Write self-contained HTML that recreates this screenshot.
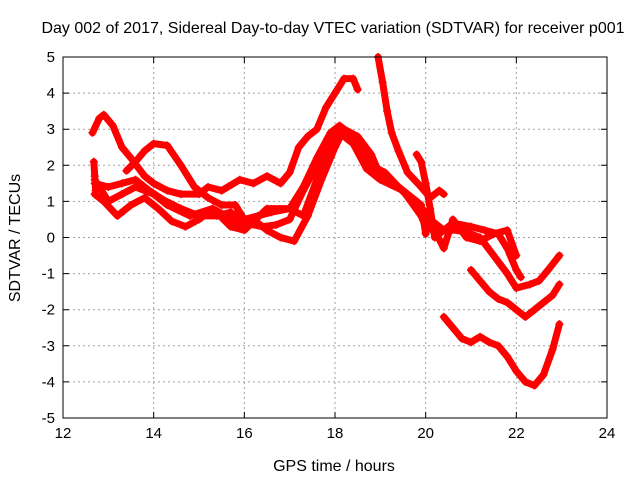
<!DOCTYPE html>
<html><head><meta charset="utf-8"><style>
body{margin:0;background:#fff}
svg{display:block;font-family:"Liberation Sans",sans-serif}
</style></head><body>
<svg id="chart" width="640" height="480">
<rect width="640" height="480" fill="#fff"/>
<text x="333" y="33" text-anchor="middle" font-size="16">Day 002 of 2017, Sidereal Day-to-day VTEC variation (SDTVAR) for receiver p001</text>
<text x="334" y="471" text-anchor="middle" font-size="16">GPS time / hours</text>
<text transform="translate(20,238) rotate(-90)" text-anchor="middle" font-size="16">SDTVAR / TECUs</text>
<g id="grid"></g>
<g id="series"></g>
<rect x="63" y="57" width="544" height="361" fill="none" stroke="#000" stroke-width="1"/>
</svg>
<script>
const xTicks=[12,14,16,18,20,22,24];
const yTicks=[-5,-4,-3,-2,-1,0,1,2,3,4,5];
const track1=[[12.65,2.9],[12.8,3.3],[12.9,3.4],[13.1,3.1],[13.3,2.5],[13.5,2.2],[13.8,1.7],[14.0,1.5],[14.3,1.3],[14.6,1.2],[15.0,1.2],[15.2,1.4],[15.5,1.3],[15.9,1.6],[16.2,1.5],[16.5,1.7],[16.8,1.5],[17.0,1.8],[17.2,2.5],[17.4,2.8],[17.6,3.0],[17.8,3.6],[18.0,4.0],[18.2,4.4],[18.4,4.4],[18.5,4.1]];
const track2=[[13.4,1.85],[13.6,2.1],[13.8,2.4],[14.0,2.6],[14.3,2.55],[14.6,2.0],[14.9,1.4],[15.2,1.1],[15.5,0.9],[15.8,0.9],[16.0,0.5],[16.3,0.6],[16.6,0.7],[17.0,0.8],[17.3,1.4],[17.6,2.2],[17.9,2.9],[18.1,3.1],[18.3,2.9],[18.6,2.3],[18.9,1.9],[19.3,1.5],[19.6,1.2],[19.9,0.9],[20.0,0.1]];
const track3=[[12.7,1.5],[13.0,1.4],[13.3,1.5],[13.6,1.6],[13.9,1.3],[14.2,1.05],[14.6,0.8],[15.0,0.6],[15.4,0.6],[15.7,0.7],[16.0,0.4],[16.4,0.3],[16.7,0.35],[17.0,0.5],[17.3,1.3],[17.6,2.0],[17.9,2.7],[18.2,3.0],[18.5,2.8],[18.8,2.3],[19.0,1.7],[19.4,1.4],[19.8,1.0],[20.1,0.5],[20.4,0.2],[20.7,0.2],[21.0,0.1],[21.2,0.0],[21.5,-0.5],[21.8,-1.0],[22.0,-1.4],[22.3,-1.3],[22.5,-1.2],[22.7,-0.9],[22.95,-0.5]];
const track4=[[12.7,1.2],[12.9,1.0],[13.2,0.6],[13.5,0.9],[13.8,1.1],[14.1,0.8],[14.4,0.45],[14.7,0.3],[15.0,0.5],[15.3,0.8],[15.6,0.6],[15.9,0.3],[16.2,0.5],[16.5,0.2],[16.8,0.0],[17.1,-0.1],[17.4,0.6],[17.7,1.6],[18.0,2.5],[18.2,3.0],[18.5,2.6],[18.8,2.0],[19.1,1.8],[19.4,1.4],[19.8,0.9],[20.0,0.3],[20.3,0.1],[20.6,0.4],[21.0,0.3],[21.3,0.2],[21.6,0.1],[21.8,-0.3],[22.0,-0.9],[22.1,-1.1]];
const track5=[[12.7,1.6],[13.0,1.0],[13.3,1.2],[13.6,1.4],[14.0,1.2],[14.3,0.9],[14.8,0.6],[15.3,0.8],[15.7,0.3],[16.0,0.2],[16.5,0.8],[17.0,0.8],[17.3,0.6],[17.6,1.6],[17.9,2.5],[18.1,2.9],[18.4,2.6],[18.7,1.9],[19.0,1.6],[19.5,1.3],[19.9,0.6],[20.2,0.2],[20.4,-0.3],[20.6,0.5],[20.9,0.0],[21.2,-0.1],[21.5,0.1],[21.8,0.2],[22.0,-0.5]];
const track6=[[18.95,5.0],[19.05,4.3],[19.15,3.5],[19.25,2.9],[19.4,2.4],[19.6,1.8],[19.9,1.4],[20.1,1.1],[20.3,1.3],[20.4,1.2]];
const track7=[[19.8,2.3],[19.9,2.1],[20.0,1.5],[20.1,0.8],[20.2,0.0]];
const track8=[[21.0,-0.9],[21.2,-1.2],[21.4,-1.5],[21.6,-1.7],[21.8,-1.8],[22.0,-2.0],[22.2,-2.2],[22.4,-2.0],[22.6,-1.8],[22.8,-1.6],[22.95,-1.3]];
const track9=[[20.4,-2.2],[20.6,-2.5],[20.8,-2.8],[21.0,-2.9],[21.2,-2.75],[21.4,-2.9],[21.6,-3.0],[21.8,-3.3],[22.0,-3.7],[22.2,-4.0],[22.4,-4.1],[22.6,-3.8],[22.8,-3.1],[22.95,-2.4]];
const track10=[[12.68,2.1],[12.7,1.7],[12.72,1.3]];
const tracks=[track1,track2,track3,track4,track5,track6,track7,track8,track9,track10];

const NS='http://www.w3.org/2000/svg';
const X0=63,X1=607,Y0=418,Y1=57;
function xs(h){return X0+(h-12)/(24-12)*(X1-X0);}
function ys(v){return Y0-(v+5)/10*(Y0-Y1);}
function mk(tag,a){const e=document.createElementNS(NS,tag);for(const k in a)e.setAttribute(k,a[k]);return e;}
const grid=document.getElementById('grid');
xTicks.forEach(t=>{
  const x=xs(t);
  if(t>12&&t<24){const l=mk('line',{x1:x,x2:x,y1:Y1,y2:Y0,stroke:'#a0a0a0','stroke-dasharray':'2,3'});
  
  grid.appendChild(l);}
  const tk=mk('path',{d:`M${x},${Y0}v-6M${x},${Y1}v6`,stroke:'#000'});
  
  grid.appendChild(tk);
  const tx=mk('text',{x:x,y:Y0+20,'text-anchor':'middle','font-size':'15'});tx.textContent=t;
  
  grid.appendChild(tx);
});
yTicks.forEach(t=>{
  const y=ys(t);
  if(t>-5&&t<5){const l=mk('line',{x1:X0,x2:X1,y1:y,y2:y,stroke:'#a0a0a0','stroke-dasharray':'2,3'});
  
  grid.appendChild(l);}
  const tk=mk('path',{d:`M${X0},${y}h6M${X1},${y}h-6`,stroke:'#000'});
  
  grid.appendChild(tk);
  const tx=mk('text',{x:X0-8,y:y+5,'text-anchor':'end','font-size':'15'});tx.textContent=t;
  
  grid.appendChild(tx);
});
const sg=document.getElementById('series');
tracks.forEach((tr,i)=>{
  const pts=tr.map(p=>xs(p[0])+','+ys(p[1])).join(' ');
  const pl=mk('polyline',{points:pts,fill:'none',stroke:'#ff0000','stroke-width':'7','stroke-linejoin':'round','stroke-linecap':'round'});
  
  
  sg.appendChild(pl);
  tr.forEach(p=>{
    const x=xs(p[0]),y=ys(p[1]);
    const m=mk('path',{d:`M${x-4},${y}h8M${x},${y-4}v8`,stroke:'#ff0000','stroke-width':'1.5'});
    
    
    sg.appendChild(m);
  });
});
</script>
</body></html>
